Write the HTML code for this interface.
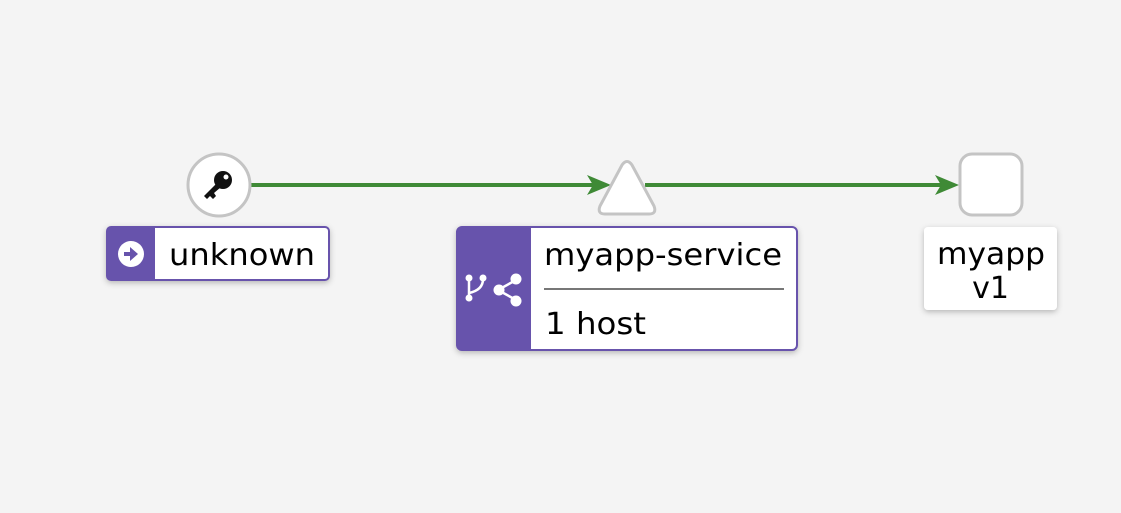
<!DOCTYPE html>
<html><head><style>body{margin:0;background:#f4f4f4;}svg{display:block}</style></head>
<body>
<svg width="1121" height="513" viewBox="0 0 1121 513" xmlns="http://www.w3.org/2000/svg" font-family="DejaVu Sans, sans-serif">
<defs>
<filter id="sh" x="-20%" y="-20%" width="140%" height="150%"><feDropShadow dx="0" dy="2" stdDeviation="3" flood-color="#000" flood-opacity="0.25"/></filter>
</defs>
<rect width="1121" height="513" fill="#f4f4f4"/>
<line x1="250" y1="185" x2="600" y2="185" stroke="#3f8a36" stroke-width="4"/>
<polygon points="611,185 587,175 593,185 587,195" fill="#3f8a36"/>
<line x1="645" y1="185" x2="948" y2="185" stroke="#3f8a36" stroke-width="4"/>
<polygon points="959,185 935,175 941,185 935,195" fill="#3f8a36"/>
<circle cx="219" cy="185" r="31" fill="#fff" stroke="#c4c4c4" stroke-width="3"/>
<g fill="#111">
<circle cx="223" cy="180" r="9"/>
<path d="M216 184 L204 196 L207 199 L210 196 L213 199 L216 196 L214 193 L221 187 Z"/>
</g>
<circle cx="226" cy="177" r="2.5" fill="#fff"/>
<g filter="url(#sh)">
<rect x="107" y="227" width="222" height="53" rx="4" fill="#fff" stroke="#6753ac" stroke-width="2"/>
</g>
<path d="M111 227 H155 V280 H111 A4 4 0 0 1 107 276 V231 A4 4 0 0 1 111 227Z" fill="#6753ac"/>
<circle cx="131" cy="254" r="13" fill="#fff"/>
<path d="M124 252 H130 V247 L138 254 L130 261 V256 H124 Z" fill="#6753ac"/>
<text x="169" y="265" font-size="30" fill="#000" textLength="146" lengthAdjust="spacingAndGlyphs">unknown</text>
<path d="M622 165 Q627 158 632 165 L654 206 Q657 214 649 214 L605 214 Q597 214 600 206 Z" fill="#fff" stroke="#c4c4c4" stroke-width="3"/>
<g filter="url(#sh)">
<rect x="457" y="227" width="340" height="123" rx="5" fill="#fff" stroke="#6753ac" stroke-width="2"/>
</g>
<path d="M462 227 H531 V350 H462 A5 5 0 0 1 457 345 V232 A5 5 0 0 1 462 227Z" fill="#6753ac"/>
<g stroke="#fff" stroke-width="2.5" fill="none">
<line x1="469" y1="279" x2="469" y2="297"/>
<path d="M483 279 Q483 290 469 293"/>
<line x1="498" y1="290" x2="516" y2="280"/>
<line x1="498" y1="290" x2="516" y2="300"/>
</g>
<g fill="#fff">
<circle cx="469" cy="278" r="3.5"/><circle cx="483" cy="278" r="3.5"/><circle cx="469" cy="298" r="3.5"/>
<circle cx="499" cy="290" r="5.5"/><circle cx="516" cy="279" r="5.5"/><circle cx="516" cy="301" r="5.5"/>
</g>
<text x="544" y="265" font-size="30" fill="#000" textLength="238" lengthAdjust="spacingAndGlyphs">myapp-service</text>
<line x1="544" y1="289" x2="784" y2="289" stroke="#777" stroke-width="2"/>
<text x="545" y="334" font-size="30" fill="#000" textLength="101" lengthAdjust="spacingAndGlyphs">1 host</text>
<rect x="960" y="154" width="62" height="61" rx="12" fill="#fff" stroke="#c4c4c4" stroke-width="3"/>
<g filter="url(#sh)">
<rect x="924" y="227" width="133" height="83" rx="4" fill="#fff"/>
</g>
<text x="937" y="264" font-size="30" fill="#000" textLength="108" lengthAdjust="spacingAndGlyphs">myapp</text>
<text x="990.5" y="298" font-size="30" fill="#000" text-anchor="middle">v1</text>
</svg>
</body></html>
